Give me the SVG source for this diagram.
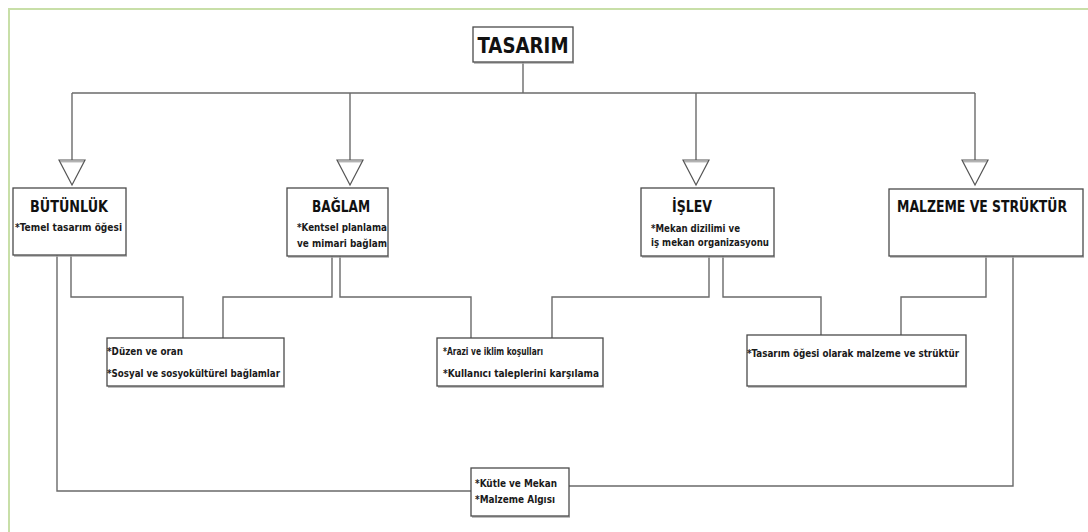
<svg xmlns="http://www.w3.org/2000/svg" width="1088" height="532" viewBox="0 0 1088 532">
  <style>
    .frame { fill: none; stroke: #c8dfa8; stroke-width: 2; }
    .box { fill: #ffffff; stroke: #4a4a4a; stroke-width: 1.3; }
    .shadow { fill: none; stroke: #a8a8a8; stroke-width: 1.5; }
    .wire { fill: none; stroke: #6a6a6a; stroke-width: 1.4; }
    .tri { fill: #ffffff; stroke: #555555; stroke-width: 1.2; }
    .title { font-family: "DejaVu Sans Condensed", "DejaVu Sans", sans-serif; font-weight: bold; fill: #111111; }
    .note { font-family: "DejaVu Sans Condensed", "DejaVu Sans", sans-serif; font-weight: bold; font-size: 10px; fill: #1a1a1a; }
  </style>
  <defs>
    <!-- hollow generalisation arrowhead with a cap bar -->
    <g id="head">
      <path class="tri" d="M -13 0 L 13 0 L 0 25 Z"/>
      <line x1="-12" y1="1.8" x2="12" y2="1.8" stroke="#777" stroke-width="0.8"/>
    </g>
  </defs>

  <rect width="1088" height="532" fill="#ffffff"/>
  <!-- page frame -->
  <path class="frame" d="M 9 532 L 9 9 L 1088 9"/>

  <g id="connectors">
    <line class="wire" x1="523" y1="62" x2="523" y2="93"/>
    <line class="wire" x1="72" y1="93" x2="975" y2="93" stroke-width="2"/>
    <line class="wire" x1="72" y1="93" x2="72" y2="160"/>
    <line class="wire" x1="350" y1="93" x2="350" y2="160"/>
    <line class="wire" x1="696" y1="93" x2="696" y2="160"/>
    <line class="wire" x1="975" y1="93" x2="975" y2="160"/>
    <use href="#head" x="72" y="160"/>
    <use href="#head" x="350" y="160"/>
    <use href="#head" x="696" y="160"/>
    <use href="#head" x="975" y="160"/>

    <polyline class="wire" points="57,255 57,491 471,491"/>
    <polyline class="wire" points="71,255 71,297 183,297 183,338"/>
    <polyline class="wire" points="332,256 332,297 223,297 223,338"/>
    <polyline class="wire" points="340,256 340,297 471,297 471,338"/>
    <polyline class="wire" points="709,256 709,297 552,297 552,338"/>
    <polyline class="wire" points="723,256 723,297 821,297 821,335"/>
    <polyline class="wire" points="986,256 986,297 901,297 901,335"/>
    <polyline class="wire" points="1013,256 1013,486 569,486"/>
  </g>

  <g id="tasarim">
    <path class="shadow" d="M 474 63 L 574 63"/>
    <rect class="box" x="473" y="27" width="100" height="35"/>
    <text class="title" x="523" y="53" font-size="22" text-anchor="middle" textLength="91" lengthAdjust="spacingAndGlyphs">TASARIM</text>
  </g>

  <g id="butunluk">
    <path class="shadow" d="M 14 256 L 127 256"/>
    <rect class="box" x="13" y="188" width="113" height="67"/>
    <text class="title" x="30" y="212" font-size="16" textLength="78" lengthAdjust="spacingAndGlyphs">BÜTÜNLÜK</text>
    <text class="note" x="15" y="231" textLength="107" lengthAdjust="spacingAndGlyphs">*Temel tasarım öğesi</text>
  </g>

  <g id="baglam">
    <path class="shadow" d="M 288 257 L 389 257"/>
    <rect class="box" x="287" y="188" width="101" height="68"/>
    <text class="title" x="312" y="212" font-size="16" textLength="58" lengthAdjust="spacingAndGlyphs">BAĞLAM</text>
    <text class="note" x="297" y="231" textLength="90" lengthAdjust="spacingAndGlyphs">*Kentsel planlama</text>
    <text class="note" x="297" y="247" textLength="90" lengthAdjust="spacingAndGlyphs">ve mimari bağlam</text>
  </g>

  <g id="islev">
    <path class="shadow" d="M 642 257 L 775 257"/>
    <rect class="box" x="641" y="188" width="133" height="68"/>
    <text class="title" x="672" y="212" font-size="16" textLength="40" lengthAdjust="spacingAndGlyphs">İŞLEV</text>
    <text class="note" x="651" y="232" textLength="89" lengthAdjust="spacingAndGlyphs">*Mekan dizilimi ve</text>
    <text class="note" x="651" y="246" textLength="118" lengthAdjust="spacingAndGlyphs">iş mekan organizasyonu</text>
  </g>

  <g id="malzeme">
    <path class="shadow" d="M 890 257 L 1084 257"/>
    <rect class="box" x="889" y="189" width="194" height="67"/>
    <text class="title" x="897" y="212" font-size="15" textLength="170" lengthAdjust="spacingAndGlyphs">MALZEME VE STRÜKTÜR</text>
  </g>

  <g id="duzen">
    <path class="shadow" d="M 108 387 L 285 387"/>
    <rect class="box" x="107" y="338" width="177" height="48"/>
    <text class="note" x="107" y="355" textLength="76" lengthAdjust="spacingAndGlyphs">*Düzen ve oran</text>
    <text class="note" x="107" y="377" textLength="173" lengthAdjust="spacingAndGlyphs">*Sosyal ve sosyokültürel bağlamlar</text>
  </g>

  <g id="arazi">
    <path class="shadow" d="M 438 387 L 604 387"/>
    <rect class="box" x="437" y="338" width="166" height="48"/>
    <text class="note" x="443" y="355" textLength="100" lengthAdjust="spacingAndGlyphs">*Arazi ve iklim koşulları</text>
    <text class="note" x="443" y="377" textLength="156" lengthAdjust="spacingAndGlyphs">*Kullanıcı taleplerini karşılama</text>
  </g>

  <g id="tasarim-ogesi">
    <path class="shadow" d="M 748 387 L 967 387"/>
    <rect class="box" x="747" y="335" width="219" height="51"/>
    <text class="note" x="747" y="357" textLength="212" lengthAdjust="spacingAndGlyphs">*Tasarım öğesi olarak malzeme ve strüktür</text>
  </g>

  <g id="kutle">
    <path class="shadow" d="M 472 517 L 570 517"/>
    <rect class="box" x="471" y="468" width="98" height="48"/>
    <text class="note" x="475" y="487" textLength="82" lengthAdjust="spacingAndGlyphs">*Kütle ve Mekan</text>
    <text class="note" x="475" y="503" textLength="80" lengthAdjust="spacingAndGlyphs">*Malzeme Algısı</text>
  </g>
</svg>
